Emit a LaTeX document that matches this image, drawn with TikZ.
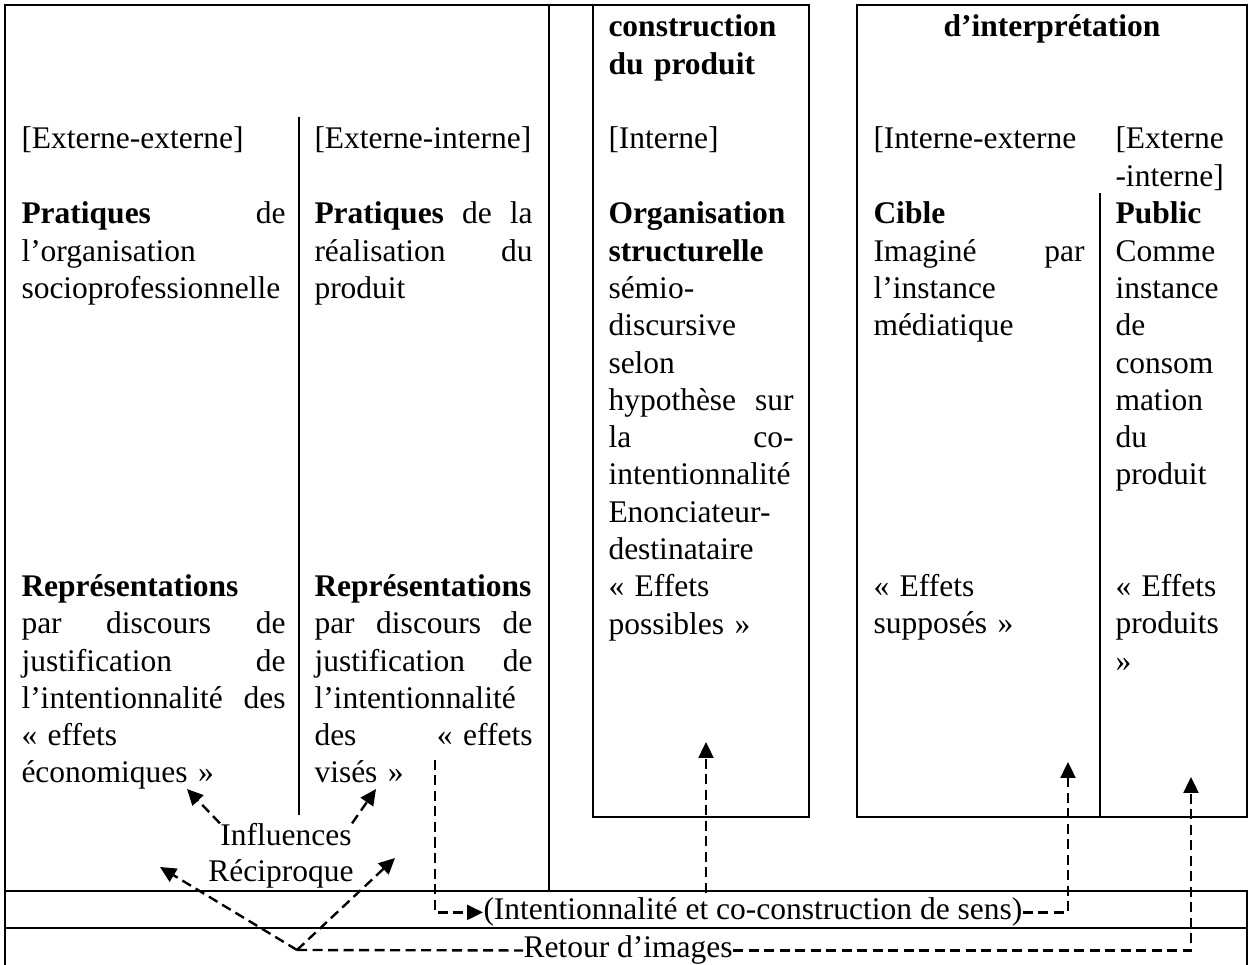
\documentclass[tikz,border=0pt]{standalone}
\usepackage{fontspec}
\setmainfont{Liberation Serif}
\usepackage{tikz}
\usetikzlibrary{arrows.meta,positioning}

\begin{document}
\begin{tikzpicture}[
  x=0.4pt, y=-0.4pt,
  rule/.style={line width=0.8pt},
  txt/.style={anchor=base west, inner sep=0pt, align=left, font=\fontsize{12.6}{14.92}\selectfont},
  cola/.style={txt, text width=105.6pt},
  colb/.style={txt, text width=87.2pt},
  colc/.style={txt, text width=74pt},
  cold/.style={txt, text width=84.4pt},
  cole/.style={txt, text width=48pt},
  ttl/.style={font=\fontsize{12.6}{14.92}\selectfont\bfseries},
  dline/.style={line width=0.95pt, dash pattern=on 4pt off 2.2pt},
  darr/.style={dline, -{Triangle[length=6.4pt,width=6pt]}}
]
  \useasboundingbox (0,0) rectangle (1249,965);

  % table rules
  \draw[rule] (5,965) -- (5,5) -- (809,5);
  \draw[rule] (549,5) -- (549,891);
  \draw[rule] (299,117) -- (299,815);
  \draw[rule] (593,5) rectangle (809,817);
  \draw[rule] (857,5) rectangle (1247,817);
  \draw[rule] (1100,193) -- (1100,817);
  \draw[rule] (5,891) -- (1247,891) -- (1247,965);
  \draw[rule] (5,928) -- (1247,928);

  % left part
  \node[txt] (exex) at (21,149) {[Externe-externe]};
  \node[cola] (pratA) at (21,223.9) {\textbf{Pratiques}\hfill de\\ l'organisation\\ socioprofessionnelle};
  \node[cola] (repA) at (21,596.5) {\textbf{Représentations}\\ par\hfill discours\hfill de\\ justification\hfill de\\ l'intentionnalité\hfill des\\ « effets\\ économiques »};
  \node[txt] (exin) at (314,149) {[Externe-interne]};
  \node[colb] (pratB) at (314,223.9) {\textbf{Pratiques}\hfill de\hfill la\\ réalisation\hfill du\\ produit};
  \node[colb] (repB) at (314,596.5) {\textbf{Représentations}\\ par\hfill discours\hfill de\\ justification\hfill de\\ l'intentionnalité\\ des\hfill «~effets\\ visés »};

  % construction
  \node[colc, ttl] (constr) at (608,37) {construction\\ du produit};
  \node[txt] (interne) at (608,149) {[Interne]};
  \node[colc] (orga) at (608,223.9) {\textbf{Organisation}\\ \textbf{structurelle}\\ sémio-\\ discursive\\ selon\\ hypothèse\hfill sur\\ la\hfill co-\\ intentionnalité\\ Enonciateur-\\ destinataire\\ « Effets\\ possibles »};

  % interpretation
  \node[txt, ttl, anchor=base] (interp) at (1052,37) {d'interprétation};
  \node[txt] (inex) at (873,149) {[Interne-externe};
  \node[cold] (cible) at (873,223.9) {\textbf{Cible}\\ Imaginé\hfill par\\ l'instance\\ médiatique};
  \node[cold] (suppo) at (873,596.5) {« Effets\\ supposés »};
  \node[cole] (exin2) at (1115,149) {[Externe\\ -interne]};
  \node[cole] (public) at (1115,223.9) {\textbf{Public}\\ Comme\\ instance\\ de\\ consom\\ mation\\ du\\ produit};
  \node[cole] (produ) at (1115,596.5) {« Effets\\ produits\\ »};

  % bottom rows
  \node[txt, anchor=base] (infl) at (286,846) {Influences};
  \node[txt, anchor=base] (recip) at (281,881) {Réciproque};
  \node[txt] (intent) at (483,920) {(Intentionnalité et co-construction de sens)};
  \node[txt] (retour) at (523,958) {Retour d'images};

  \coordinate (vpt) at (297,950);
  \coordinate (tipecon) at (187,789);
  \coordinate (tipvises) at (376,789);
  \coordinate (tipleft) at (160,867);
  \coordinate (tipright) at (395,858);
  \coordinate (visstart) at (435,760);
  \coordinate (cstart) at (706,893);
  \coordinate (tipposs) at (706,742);
  \coordinate (tipsupp) at (1068,762);
  \coordinate (tipprod) at (1191,777);

  \draw[darr] (infl.north west) -- (tipecon);
  \draw[darr] (infl.north east) -- (tipvises);
  \draw[darr] (vpt) -- (tipleft);
  \draw[darr] (vpt) -- (tipright);
  \draw[dline] (vpt) -- (retour.west);
  \draw[darr] (retour.east) -| (tipprod);
  \draw[darr] (visstart) |- (intent.west);
  \draw[darr] (intent.east) -| (tipsupp);
  \draw[darr] (cstart) -- (tipposs);
\end{tikzpicture}
\end{document}
